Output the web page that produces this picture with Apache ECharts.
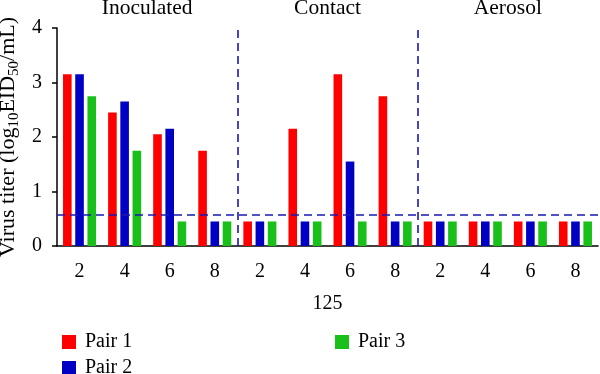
<!DOCTYPE html>
<html>
<head>
<meta charset="utf-8">
<script src="https://cdn.jsdelivr.net/npm/echarts@6/dist/echarts.min.js"></script>
<style>html,body{margin:0;padding:0;background:#fff;}#c{width:600px;height:374px;}</style>
</head>
<body>
<div id="c"></div>
<script>
var dayLabels = ['2','4','6','8','2','4','6','8','2','4','6','8'];
var sections = ['Inoculated','Contact','Aerosol'];
var seriesNames = ['Pair 1','Pair 2','Pair 3'];
var pair1 = [3.15, 2.45, 2.05, 1.75, 0.45, 2.15, 3.15, 2.75, 0.45, 0.45, 0.45, 0.45];
var pair2 = [3.15, 2.65, 2.15, 0.45, 0.45, 0.45, 1.55, 0.45, 0.45, 0.45, 0.45, 0.45];
var pair3 = [2.75, 1.75, 0.45, 0.45, 0.45, 0.45, 0.45, 0.45, 0.45, 0.45, 0.45, 0.45];
var detectionLimit = 0.58;
var yTicks = [0, 1, 2, 3, 4];
var xAxisTitle = '125';

var colors = ['#FF0000', '#0000C4', '#19C019'];
var lineBlue = '#1818B4';
var FONT = '"Liberation Serif", "Times New Roman", serif';
var FS = 20;

var perSection = dayLabels.length / sections.length;
var boundaries = [];
for (var i = 1; i < sections.length; i++) boundaries.push({ xAxis: i * perSection });

var seriesData = [pair1, pair2, pair3];
var series = seriesData.map(function (d, i) {
  var s = {
    name: seriesNames[i],
    type: 'bar',
    xAxisIndex: 0,
    yAxisIndex: 0,
    data: d,
    barWidth: 8.6,
    barGap: '42%',
    itemStyle: { color: colors[i] },
    emphasis: { disabled: true }
  };
  if (i === 0) {
    s.markLine = {
      silent: true,
      symbol: 'none',
      label: { show: false },
      lineStyle: { color: lineBlue, type: [8, 5], width: 1.6 },
      data: [{ yAxis: detectionLimit }]
    };
  }
  return s;
});
series.push({
  type: 'scatter',
  xAxisIndex: 2,
  yAxisIndex: 0,
  data: [],
  markLine: {
    silent: true,
    symbol: 'none',
    label: { show: false },
    lineStyle: { color: lineBlue, type: [8, 5], width: 1.6 },
    data: boundaries
  }
});

function legendAt(name, left, top) {
  return {
    data: [name],
    orient: 'horizontal',
    left: left, top: top,
    itemWidth: 14, itemHeight: 14,
    icon: 'rect',
    selectedMode: false,
    textStyle: { fontFamily: FONT, fontSize: FS, color: '#000', padding: [0, 0, 0, 4] }
  };
}

var chart = echarts.init(document.getElementById('c'), null, { renderer: 'canvas' });
chart.setOption({
  animation: false,
  backgroundColor: '#fff',
  textStyle: { fontFamily: FONT },
  grid: { left: 57, right: 2, top: 28, bottom: 128, containLabel: false, outerBoundsMode: 'none' },
  legend: [
    legendAt(seriesNames[0], 57, 327),
    legendAt(seriesNames[1], 57, 353),
    legendAt(seriesNames[2], 330, 327)
  ],
  xAxis: [
    {
      type: 'category',
      data: dayLabels,
      position: 'bottom',
      name: xAxisTitle,
      nameLocation: 'middle',
      nameGap: 48,
      nameTextStyle: { fontFamily: FONT, fontSize: FS, color: '#000' },
      axisLine: { lineStyle: { color: '#000', width: 1.5 } },
      axisTick: { alignWithLabel: true, length: 6, lineStyle: { color: '#000', width: 1.5 } },
      axisLabel: { fontFamily: FONT, fontSize: FS, color: '#000', margin: 16 },
      splitLine: { show: false }
    },
    {
      type: 'category',
      data: sections,
      position: 'top',
      axisLine: { show: false },
      axisTick: { show: false },
      axisLabel: { fontFamily: FONT, fontSize: 21.5, color: '#000', margin: 9 },
      splitLine: { show: false }
    },
    {
      type: 'value',
      min: 0,
      max: dayLabels.length,
      show: false
    }
  ],
  yAxis: [{
    type: 'value',
    min: yTicks[0],
    max: yTicks[yTicks.length - 1],
    interval: 1,
    offset: 5,
    name: '{n|Virus titer (log}{s|10}{n|EID}{s|50}{n|/mL)}',
    nameLocation: 'middle',
    nameGap: 25,
    nameTextStyle: {
      rich: {
        n: { fontFamily: FONT, fontSize: 22, color: '#000' },
        s: { fontFamily: FONT, fontSize: 15, color: '#000', padding: [10, 0, 0, 0] }
      }
    },
    axisLine: { show: true, lineStyle: { color: '#000', width: 1.5 } },
    axisTick: { show: true, length: 5, lineStyle: { color: '#000', width: 1.5 } },
    axisLabel: { fontFamily: FONT, fontSize: FS, color: '#000', margin: 10 },
    splitLine: { show: false }
  }],
  series: series
});
</script>
</body>
</html>
